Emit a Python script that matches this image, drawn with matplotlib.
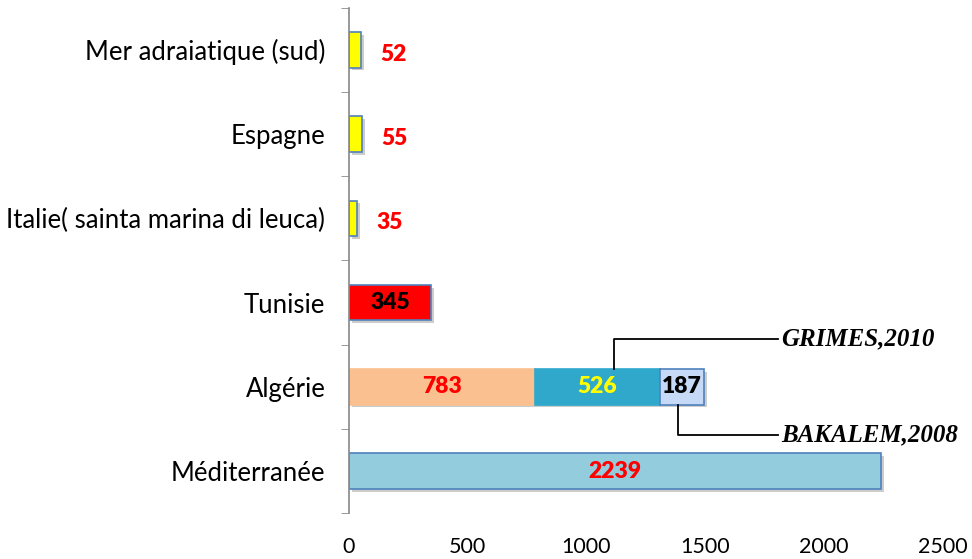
import numpy as np
import matplotlib.pyplot as plt
import matplotlib.patheffects as pe

# data
categories = ['Méditerranée', 'Algérie', 'Tunisie', 'Italie( sainta marina di leuca)', 'Espagne', 'Mer adraiatique (sud)']
single_values = [2239, None, 345, 35, 55, 52]
algerie_parts = [783, 526, 187]
algerie_colors = ['#FAC090', '#2FA8CB', '#C6D9F7']
algerie_text_colors = ['red', '#FFFF00', 'black']
single_colors = ['#93CDDD', None, '#FF0000', '#FFFF00', '#FFFF00', '#FFFF00']
sources = ['GRIMES,2010', 'BAKALEM,2008']

plt.rcParams['font.family'] = ['Lato', 'DejaVu Sans']

fig = plt.figure(figsize=(9.72, 5.59), dpi=100)
ax = fig.add_axes([0.359, 0.082, 0.611, 0.904])

shadow = [pe.SimplePatchShadow(offset=(2, -2), shadow_rgbFace='gray', alpha=0.4), pe.Normal()]
h = 0.42
y = np.arange(len(categories))

for i, v in enumerate(single_values):
    if v is None:
        continue
    b = ax.barh(y[i], v, height=h, color=single_colors[i], edgecolor='#4F81BD', linewidth=1.2)
    for p in b:
        p.set_path_effects(shadow)
    if v > 300:
        ax.text(v / 2, y[i], str(v), ha='center', va='center', fontsize=16.5, fontweight='heavy',
                color='red' if i == 0 else 'black')
    else:
        ax.annotate(str(v), (v, y[i]), xytext=(14, -3), textcoords='offset points',
                    ha='left', va='center', fontsize=16.5, fontweight='heavy', color='red')

left = 0
for part, c, tc in zip(algerie_parts, algerie_colors, algerie_text_colors):
    b = ax.barh(y[1], part, left=left, height=h, color=c,
                edgecolor='#4F81BD' if c == '#C6D9F7' else c, linewidth=1.2)
    for p in b:
        p.set_path_effects(shadow)
    ax.text(left + part / 2, y[1], str(part), ha='center', va='center', fontsize=16.5,
            fontweight='heavy', color=tc)
    left += part

# source callouts
ax.plot([1115, 1115, 1805], [y[1] + h / 2, y[1] + 0.57, y[1] + 0.57], color='black', lw=1.3, clip_on=False)
ax.plot([1385, 1385, 1805], [y[1] - h / 2, y[1] - 0.57, y[1] - 0.57], color='black', lw=1.3, clip_on=False)
ax.text(1820, y[1] + 0.57, sources[0], ha='left', va='center', fontsize=18, fontweight='bold',
        style='italic', family='Liberation Serif', clip_on=False)
ax.text(1820, y[1] - 0.57, sources[1], ha='left', va='center', fontsize=18, fontweight='bold',
        style='italic', family='Liberation Serif', clip_on=False)

ax.set_xlim(0, 2500)
ax.set_ylim(-0.5, len(categories) - 0.5)
ax.set_xticks(np.arange(0, 2501, 500))
ax.tick_params(axis='x', length=0, labelsize=15.5, pad=17)
ax.set_yticks(y)
ax.set_yticklabels(categories, fontsize=18.5)
ax.set_yticks(np.arange(-0.5, len(categories), 1), minor=True)
ax.tick_params(axis='y', which='major', length=0, pad=17)
ax.tick_params(axis='y', which='minor', length=6, color='#888888')
for s in ['top', 'right', 'bottom']:
    ax.spines[s].set_visible(False)
ax.spines['left'].set_color('#888888')
ax.spines['left'].set_linewidth(1.2)

fig.savefig('out.png', dpi=100)
